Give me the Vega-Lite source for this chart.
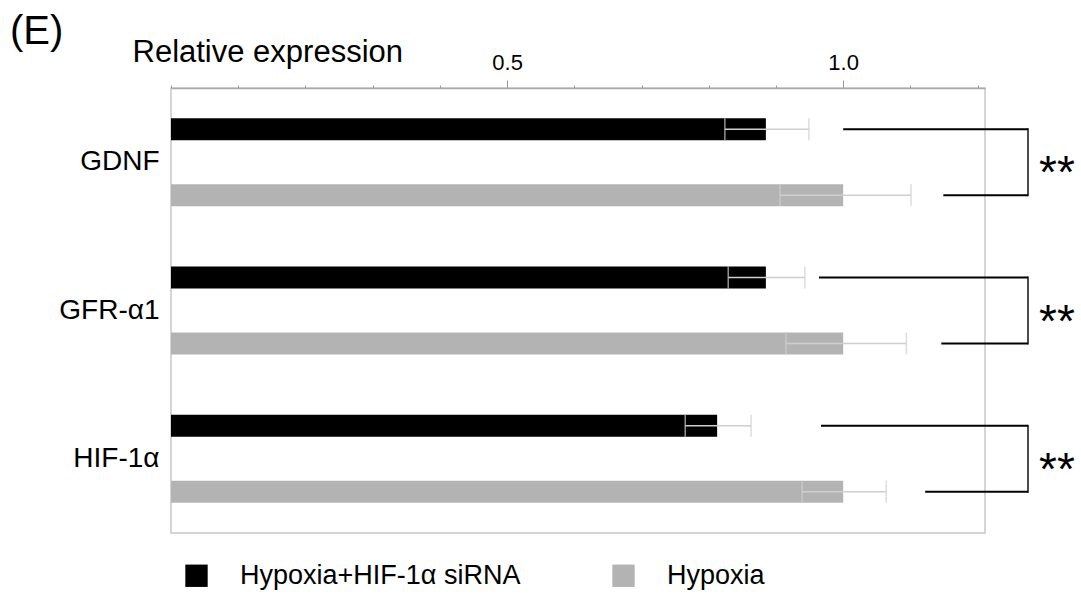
{
  "$schema": "https://vega.github.io/schema/vega-lite/v6.json",
  "width": 814,
  "height": 445,
  "autosize": {"type": "none"},
  "padding": {"left": 171, "top": 88, "right": 96, "bottom": 65},
  "background": "white",
  "config": {
    "font": "Liberation Sans",
    "view": {"stroke": "#c8c8c8", "strokeWidth": 1.5},
    "legend": {
      "orient": "none",
      "legendX": 12,
      "legendY": 474,
      "direction": "horizontal",
      "symbolType": "square",
      "symbolSize": 500,
      "symbolStrokeWidth": 0,
      "labelFontSize": 27,
      "labelOffset": 30,
      "columnPadding": 89,
      "labelColor": "#000",
      "padding": 0,
      "labelLimit": 0
    }
  },
  "title": {
    "text": "(E)",
    "anchor": "start",
    "frame": "group",
    "dx": -161,
    "dy": 16,
    "offset": 0,
    "fontSize": 40,
    "fontWeight": "normal",
    "font": "Liberation Sans",
    "color": "#000"
  },
  "datasets": {
    "bars": [
      {"gene": "GDNF", "group": "Hypoxia+HIF-1α siRNA", "mean": 0.885, "lower": 0.824, "upper": 0.949},
      {"gene": "GDNF", "group": "Hypoxia", "mean": 1.0, "lower": 0.906, "upper": 1.101},
      {"gene": "GFR-α1", "group": "Hypoxia+HIF-1α siRNA", "mean": 0.885, "lower": 0.829, "upper": 0.943},
      {"gene": "GFR-α1", "group": "Hypoxia", "mean": 1.0, "lower": 0.915, "upper": 1.094},
      {"gene": "HIF-1α", "group": "Hypoxia+HIF-1α siRNA", "mean": 0.8125, "lower": 0.765, "upper": 0.863},
      {"gene": "HIF-1α", "group": "Hypoxia", "mean": 1.0, "lower": 0.939, "upper": 1.064}
    ],
    "brackets": [
      {"gene": "GDNF", "group": "Hypoxia+HIF-1α siRNA", "start": 1.0, "end": 1.275},
      {"gene": "GDNF", "group": "Hypoxia", "start": 1.149, "end": 1.275},
      {"gene": "GFR-α1", "group": "Hypoxia+HIF-1α siRNA", "start": 0.964, "end": 1.275},
      {"gene": "GFR-α1", "group": "Hypoxia", "start": 1.146, "end": 1.275},
      {"gene": "HIF-1α", "group": "Hypoxia+HIF-1α siRNA", "start": 0.967, "end": 1.275},
      {"gene": "HIF-1α", "group": "Hypoxia", "start": 1.122, "end": 1.275}
    ],
    "sig": [
      {"gene": "GDNF", "x": 1.275, "tx": 1.318, "label": "**"},
      {"gene": "GFR-α1", "x": 1.275, "tx": 1.318, "label": "**"},
      {"gene": "HIF-1α", "x": 1.275, "tx": 1.318, "label": "**"}
    ]
  },
  "layer": [
    {
      "data": {"name": "bars"},
      "mark": {"type": "bar"},
      "encoding": {
        "x": {
          "field": "mean",
          "type": "quantitative",
          "scale": {"domain": [0, 1.211], "nice": false, "zero": false},
          "axis": {
            "orient": "top",
            "values": [0, 0.05, 0.1, 0.15, 0.2, 0.25, 0.3, 0.35, 0.4, 0.45, 0.5, 0.55, 0.6, 0.65, 0.7, 0.75, 0.8, 0.85, 0.9, 0.95, 1, 1.05, 1.1, 1.15, 1.2],
            "labelExpr": "abs(datum.value-0.5)<0.001 ? '0.5' : (abs(datum.value-1)<0.001 ? '1.0' : '')",
            "labelOverlap": false,
            "labelFlush": false,
            "tickSize": {"condition": {"test": "abs(datum.value-0.5)<0.001 || abs(datum.value-1)<0.001", "value": 8}, "value": 3},
            "tickColor": "#999999",
            "tickWidth": 1,
            "domainColor": "#aaaaaa",
            "domainWidth": 1.5,
            "grid": false,
            "labelFontSize": 22,
            "labelPadding": 6,
            "labelColor": "#000",
            "title": "Relative expression",
            "titleFontSize": 31,
            "titleFontWeight": "normal",
            "titleColor": "#000",
            "titleAnchor": "start",
            "titleAlign": "left",
            "titleBaseline": "alphabetic",
            "titleX": -39,
            "titleY": -27
          }
        },
        "y": {
          "field": "gene",
          "type": "nominal",
          "sort": ["GDNF", "GFR-α1", "HIF-1α"],
          "scale": {"paddingInner": 0, "paddingOuter": 0},
          "axis": {
            "title": null,
            "ticks": false,
            "domain": false,
            "labelFontSize": 28,
            "labelPadding": 12,
            "labelColor": "#000"
          }
        },
        "yOffset": {
          "field": "group",
          "type": "nominal",
          "sort": ["Hypoxia+HIF-1α siRNA", "Hypoxia"],
          "scale": {"paddingInner": 0.667, "paddingOuter": 0.457}
        },
        "color": {
          "field": "group",
          "type": "nominal",
          "sort": ["Hypoxia+HIF-1α siRNA", "Hypoxia"],
          "scale": {"domain": ["Hypoxia+HIF-1α siRNA", "Hypoxia"], "range": ["#000000", "#b3b3b3"]},
          "legend": {"title": null}
        }
      }
    },
    {
      "data": {"name": "bars"},
      "mark": {"type": "rule", "color": "#cfcfcf", "strokeWidth": 1.5},
      "encoding": {
        "x": {"field": "lower", "type": "quantitative"},
        "x2": {"field": "upper"},
        "y": {"field": "gene", "type": "nominal", "sort": ["GDNF", "GFR-α1", "HIF-1α"]},
        "yOffset": {"field": "group", "type": "nominal", "sort": ["Hypoxia+HIF-1α siRNA", "Hypoxia"]}
      }
    },
    {
      "data": {"name": "bars"},
      "mark": {"type": "tick", "color": "#cfcfcf", "thickness": 1.5, "size": 22, "orient": "vertical"},
      "encoding": {
        "x": {"field": "lower", "type": "quantitative"},
        "y": {"field": "gene", "type": "nominal", "sort": ["GDNF", "GFR-α1", "HIF-1α"]},
        "yOffset": {"field": "group", "type": "nominal", "sort": ["Hypoxia+HIF-1α siRNA", "Hypoxia"]}
      }
    },
    {
      "data": {"name": "bars"},
      "mark": {"type": "tick", "color": "#cfcfcf", "thickness": 1.5, "size": 22, "orient": "vertical"},
      "encoding": {
        "x": {"field": "upper", "type": "quantitative"},
        "y": {"field": "gene", "type": "nominal", "sort": ["GDNF", "GFR-α1", "HIF-1α"]},
        "yOffset": {"field": "group", "type": "nominal", "sort": ["Hypoxia+HIF-1α siRNA", "Hypoxia"]}
      }
    },
    {
      "data": {"name": "brackets"},
      "mark": {"type": "rule", "color": "#000000", "strokeWidth": 2},
      "encoding": {
        "x": {"field": "start", "type": "quantitative"},
        "x2": {"field": "end"},
        "y": {"field": "gene", "type": "nominal", "sort": ["GDNF", "GFR-α1", "HIF-1α"]},
        "yOffset": {"field": "group", "type": "nominal", "sort": ["Hypoxia+HIF-1α siRNA", "Hypoxia"]}
      }
    },
    {
      "data": {"name": "sig"},
      "mark": {"type": "tick", "color": "#000000", "thickness": 2, "size": 68, "orient": "vertical"},
      "encoding": {
        "x": {"field": "x", "type": "quantitative"},
        "y": {"field": "gene", "type": "nominal", "sort": ["GDNF", "GFR-α1", "HIF-1α"]}
      }
    },
    {
      "data": {"name": "sig"},
      "mark": {"type": "text", "fontSize": 46, "color": "#000", "align": "center", "baseline": "alphabetic", "dy": 26},
      "encoding": {
        "x": {"field": "tx", "type": "quantitative"},
        "y": {"field": "gene", "type": "nominal", "sort": ["GDNF", "GFR-α1", "HIF-1α"]},
        "text": {"field": "label"}
      }
    }
  ]
}
